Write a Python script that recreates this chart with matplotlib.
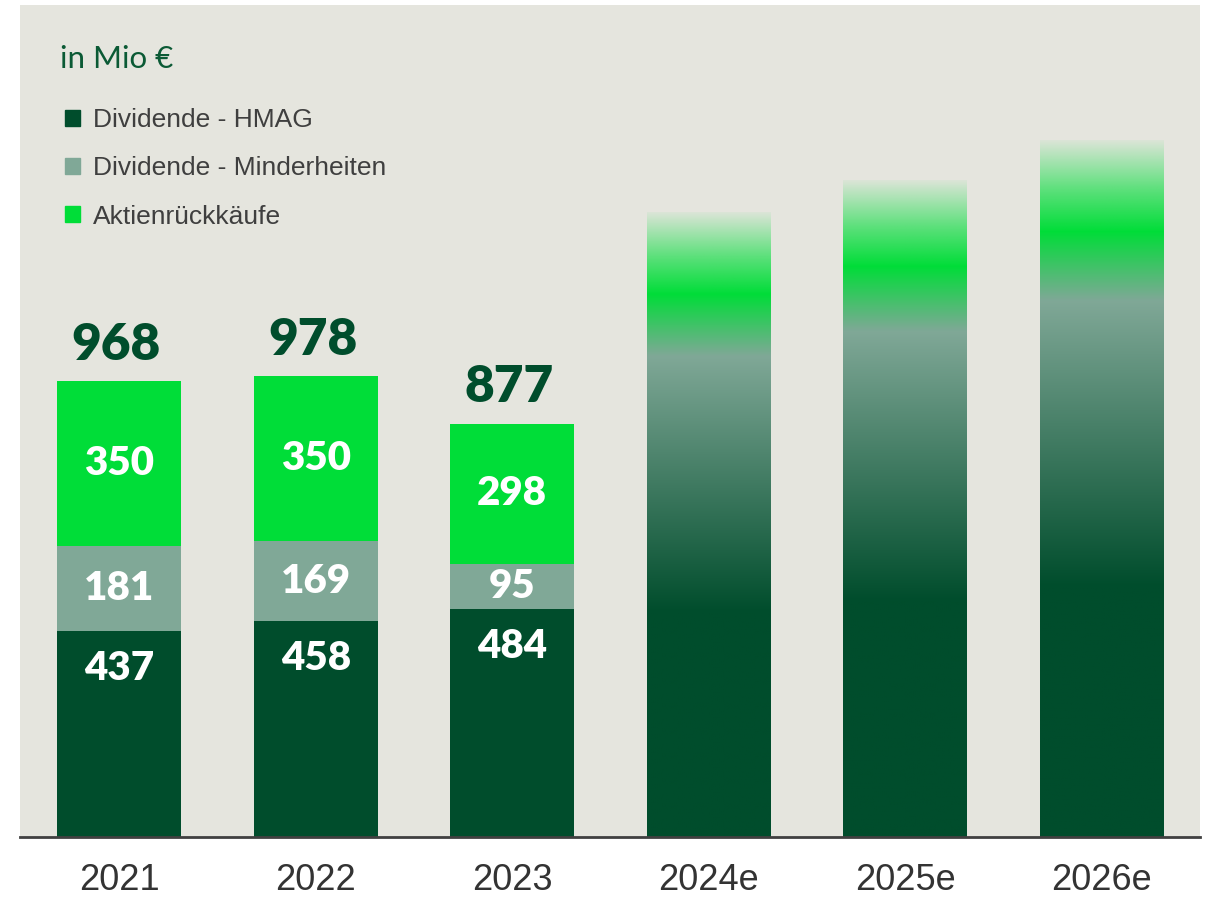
import numpy as np
import matplotlib
matplotlib.use('Agg')
import matplotlib.pyplot as plt
from matplotlib.patches import Patch
from matplotlib.colors import to_rgba

years = ['2021', '2022', '2023', '2024e', '2025e', '2026e']
hmag = np.array([437, 458, 484])
minder = np.array([181, 169, 95])
rueck = np.array([350, 350, 298])
totals = np.array([968, 978, 877])
# forecast bars have no numbers, heights read off the picture
forecast = np.array([1325, 1393, 1478])

dark = '#004D2C'
grey = '#80A897'
bright = '#00DD38'
bg = '#E5E5DE'

fig = plt.figure(figsize=(12.06, 9), dpi=100)
ax = fig.add_axes([20/1206, 63/900, 1180/1206, 832/900])
ax.set_facecolor(bg)

x = np.arange(len(years))
w = 0.63
xa = x[:3]
ax.bar(xa, hmag, w, color=dark, label='Dividende - HMAG')
ax.bar(xa, minder, w, bottom=hmag, color=grey, label='Dividende - Minderheiten')
ax.bar(xa, rueck, w, bottom=hmag + minder, color=bright, label='Aktienrückkäufe')

num_font = dict(family='Lato', fontweight='heavy')
for i in range(3):
    ax.annotate(str(hmag[i]), (xa[i], hmag[i]), xytext=(0, -27), textcoords='offset points',
                ha='center', va='center', color='white', fontsize=29, **num_font)
    ax.text(xa[i], hmag[i] + minder[i] / 2, str(minder[i]), ha='center', va='center',
            color='white', fontsize=29, **num_font)
    ax.text(xa[i], hmag[i] + minder[i] + rueck[i] / 2, str(rueck[i]), ha='center', va='center',
            color='white', fontsize=29, **num_font)
    ax.annotate(str(totals[i]), (xa[i], totals[i]), xytext=(-2, 26), textcoords='offset points',
                ha='center', va='center', color=dark, fontsize=37, **num_font)

# gradient bars for the estimates
stops = [0.0, 0.36, 0.77, 0.87, 0.93, 1.0]
cols = [to_rgba(dark), to_rgba(dark), to_rgba(grey), to_rgba(bright),
        to_rgba(bright, 0.6), to_rgba(bright, 0.05)]
t = np.linspace(0, 1, 400)
grad = np.zeros((400, 1, 4))
for k in range(4):
    grad[:, 0, k] = np.interp(t, stops, [c[k] for c in cols])
for xi, h in zip(x[3:], forecast):
    ax.imshow(grad, extent=(xi - w/2, xi + w/2, 0, h), origin='lower', aspect='auto',
              interpolation='bilinear', zorder=2)

ax.set_xlim(-0.505, 5.5)
ax.set_ylim(0, 1765)
ax.set_xticks(x)
ax.set_xticklabels(years, fontsize=26, color='#333333', family='Liberation Sans')
ax.tick_params(axis='x', length=0, pad=19)
ax.set_yticks([])
for s in ['top', 'left', 'right']:
    ax.spines[s].set_visible(False)
ax.spines['bottom'].set_color('#404040')
ax.spines['bottom'].set_linewidth(2)

fig.text(60/1206, 1 - 59/900, 'in Mio €', fontsize=22.5, color='#0B5A35', family='Lato',
         va='center', ha='left')

handles = [Patch(color=dark), Patch(color=grey), Patch(color=bright)]
labels = ['Dividende - HMAG', 'Dividende - Minderheiten', 'Aktienrückkäufe']
leg = fig.legend(handles, labels, loc='upper left', bbox_to_anchor=(65/1206, 1 - 108/900),
                 frameon=False, handlelength=0.55, handleheight=0.55,
                 handletextpad=0.5, labelspacing=0.92, borderpad=0, borderaxespad=0,
                 prop={'family': 'Liberation Sans', 'size': 19})
for txt in leg.get_texts():
    txt.set_color('#3F3F3F')

fig.savefig('out.png', dpi=100, facecolor='white')
